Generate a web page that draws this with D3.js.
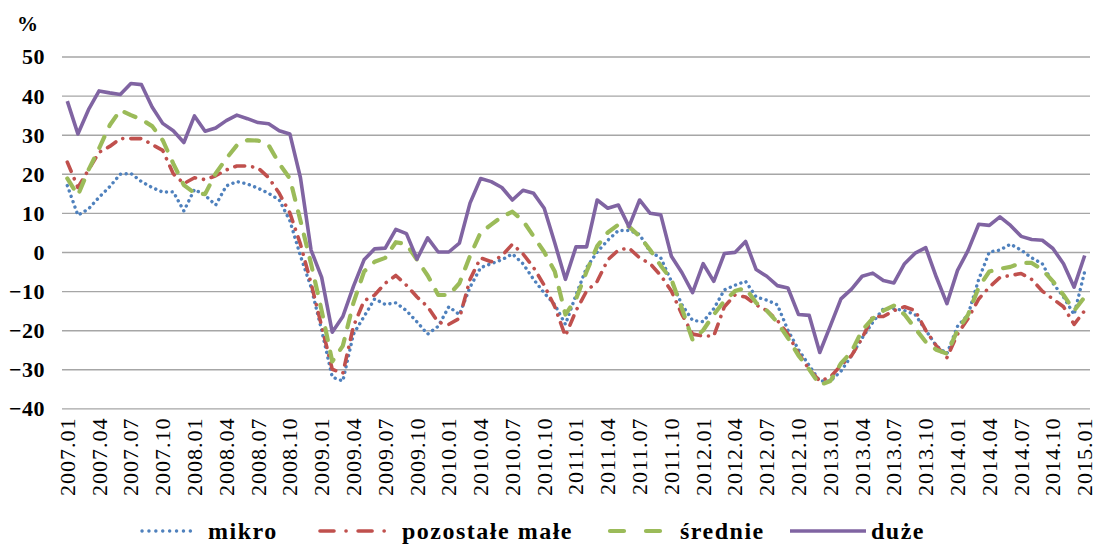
<!DOCTYPE html>
<html>
<head>
<meta charset="utf-8">
<script src="https://cdn.jsdelivr.net/npm/d3@7"></script>
</head>
<body style="margin:0">
<svg id="chart" width="1096" height="547" font-family="Liberation Serif"></svg>
<script>
// months 2007.01 .. 2015.01
const months = [];
for (let y = 2007; y <= 2015; y++) {
  for (let m = 1; m <= 12; m++) {
    if (y === 2015 && m > 1) break;
    months.push(y + "." + (m < 10 ? "0" + m : m));
  }
}
const tickLabels = months.filter((d, i) => i % 3 === 0);
const yTicks = [-40, -30, -20, -10, 0, 10, 20, 30, 40, 50];

const mikro = [17, 9.4, 11, 14, 16.7, 19.9, 20.1, 18, 16.5, 15.3, 15.4, 10.5,
  16, 14.5, 12, 16.9, 18, 17.4, 16.3, 15, 13.3, 8, -1, -9,
  -20, -32, -33, -21, -16.5, -12, -13.4, -13, -15, -17.9, -21, -19,
  -14, -16, -9, -4, -3, -2, -0.5, -3, -7, -10.5, -13.5, -18.5,
  -11, -4, 0, 3, 5.5, 5.5, 4.5, 0, -1.5, -7.5, -13.5, -17.5,
  -17.8, -14.5, -9.7, -8.5, -7.5, -11.5, -12.3, -13.5, -20, -25, -29, -33,
  -33, -30.5, -26.5, -22, -18, -14.5, -14.5, -15, -16, -20, -24, -26,
  -19, -16, -7, 0, 0.5, 2, 0.5, -1.5, -3, -8, -11.5, -16,
  -5];

const pozostale = [23, 16.5, 21, 25.5, 27, 29, 29, 29, 27.5, 26, 20, 17.5,
  19, 18.5, 19.5, 21, 22, 22, 21.5, 19, 15, 10, 2, -8,
  -19, -30, -31, -19, -12.5, -11, -8, -6, -8.5, -11.5, -14, -18,
  -18.5, -17, -7, -1.5, -2.5, -1, 2, -0.5, -4, -8.5, -14, -21.5,
  -15, -10, -7.5, -2, 0.5, 1, -1.5, -3, -6, -10, -16, -21,
  -21.5, -21.5, -14, -11, -11.5, -13.5, -15, -17.5, -21, -26, -30, -33,
  -32, -29, -26.5, -22, -16.5, -16.5, -15, -14, -15, -20, -24, -27,
  -21, -17, -12, -9, -6.5, -6, -5.5, -7, -10, -12, -14, -18.5,
  -15];

const srednie = [18.8, 14.5, 21, 26.5, 32.4, 36.3, 35, 33.9, 32.2, 28.6, 22.6, 17.1,
  15.1, 14.8, 20.1, 23.9, 27.3, 28.6, 28.5, 27.3, 22.6, 18.8, 8, -3,
  -15, -28, -24, -13, -5, -2.5, -1.5, 2.5, 2, -2, -6, -11,
  -11, -8, -1, 5, 7, 9, 10.3, 8, 4, 0, -5, -16,
  -12, -5, 1.5, 5, 7, 6.5, 4, 0.5, -3.5, -7, -14.5, -22.5,
  -20, -16, -12.5, -10, -9.2, -13, -15, -18, -22, -26.5, -30, -34,
  -33, -28.5, -25.5, -20, -17, -15, -13.7, -16, -19.5, -23, -25, -26,
  -20, -16, -9, -5, -4.3, -3.8, -2.8, -2.8, -4.5, -7.5, -11, -15,
  -11.5];

const duze = [38.6, 30.2, 36.4, 41.2, 40.7, 40.3, 43.1, 42.8, 37.1, 32.9, 31, 28,
  34.8, 30.9, 31.7, 33.6, 35, 34.1, 33.1, 32.8, 31, 30.2, 19, 0.5,
  -6.5, -20.5, -16.5, -8.8, -2, 0.8, 1, 5.8, 4.7, -1.8, 3.6, 0,
  0, 2.3, 12.5, 18.8, 18, 16.5, 13.3, 15.8, 15, 11.2, 2.3, -7,
  1.3, 1.3, 13.3, 11.2, 12, 6.5, 13.3, 9.9, 9.5, -1.1, -5.3, -10.4,
  -3, -7.5, -0.4, -0.1, 2.7, -4.5, -6.2, -8.6, -9.2, -16, -16.2, -25.7,
  -18.9, -12, -9.5, -6.2, -5.4, -7.3, -7.9, -3, -0.3, 1.1, -6.4, -13.2,
  -4.7, 0.4, 7.1, 6.8, 9, 6.8, 4, 3.2, 3, 0.9, -3, -9,
  -0.9];

const seriesNames = ["mikro", "pozostałe małe", "średnie", "duże"];
const seriesValues = [mikro, pozostale, srednie, duze];

const styles = [
  { color: "#4F81BD", width: 3.4, dash: "0.1,5.6", cap: "round" },
  { color: "#C0504D", width: 3.6, dash: "10,8,0.1,8", cap: "round" },
  { color: "#9BBB59", width: 4.2, dash: "12,12", cap: "round" },
  { color: "#8064A2", width: 3.6, dash: null, cap: "butt" }
];

const svg = d3.select("#chart");
const plot = { left: 62, right: 1090, top: 56.5, bottom: 408.4 };

const x = d3.scaleBand().domain(months).range([plot.left, plot.right]);
const xc = d => x(d) + x.bandwidth() / 2;
const y = d3.scaleLinear().domain([-40, 50]).range([plot.bottom, plot.top]);

function serif(sel, size, bold) {
  sel.attr("font-family", "Liberation Serif")
    .style("font-family", "'Liberation Serif'")
    .style("font-size", size + "px")
    .style("font-weight", bold ? "bold" : "normal");
}

// gridlines + y labels
const yAxis = d3.axisLeft(y).tickValues(yTicks)
  .tickSize(-(plot.right - plot.left)).tickPadding(17).tickFormat(d3.format("d"));
svg.append("g")
  .attr("transform", "translate(" + plot.left + ",0)")
  .call(yAxis)
  .attr("font-family", "Liberation Serif")
  .call(g => g.select(".domain").remove())
  .call(g => g.selectAll(".tick line").attr("stroke", "#a6a6a6").attr("stroke-width", 1.4))
  .call(g => g.selectAll(".tick text").call(serif, 22, true)
    .style("letter-spacing", "0.5px")
    .attr("fill", "#000").attr("dy", "0.34em"));

svg.append("text")
  .attr("x", 17).attr("y", 31)
  .call(serif, 21, true)
  .text("%");

// x labels
const xAxis = d3.axisBottom(x).tickValues(tickLabels).tickSize(0);
svg.append("g")
  .attr("transform", "translate(0," + plot.bottom + ")")
  .call(xAxis)
  .attr("font-family", "Liberation Serif")
  .call(g => g.select(".domain").remove())
  .call(g => g.selectAll(".tick text").call(serif, 22, false)
    .style("letter-spacing", "1px")
    .attr("fill", "#000")
    .attr("transform", "rotate(-90)")
    .attr("text-anchor", "end")
    .attr("x", -9)
    .attr("y", 0)
    .attr("dy", "0.34em"));

// lines
const line = d3.line().x((d, i) => xc(months[i])).y(d => y(d));

seriesValues.forEach((vals, k) => {
  const s = styles[k];
  svg.append("path")
    .datum(vals)
    .attr("fill", "none")
    .attr("stroke", s.color)
    .attr("stroke-width", s.width)
    .attr("stroke-linecap", s.cap)
    .attr("stroke-linejoin", "round")
    .attr("stroke-dasharray", s.dash)
    .attr("d", line);
});

// legend
const legendPos = [
  { x0: 142, x1: 196, tx: 208 },
  { x0: 320, x1: 396, tx: 402 },
  { x0: 610, x1: 662, tx: 680 },
  { x0: 790, x1: 866, tx: 871 }
];
const legendDash = ["0.1,6.8", "14,12,0.1,12", "14,22", null];
const legend = svg.append("g");
seriesNames.forEach((name, k) => {
  const s = styles[k], p = legendPos[k];
  legend.append("line")
    .attr("x1", p.x0).attr("x2", p.x1)
    .attr("y1", 531).attr("y2", 531)
    .attr("stroke", s.color)
    .attr("stroke-width", s.width)
    .attr("stroke-linecap", s.cap)
    .attr("stroke-dasharray", legendDash[k]);
  legend.append("text")
    .attr("x", p.tx).attr("y", 539)
    .call(serif, 24, true)
    .style("letter-spacing", "1.5px")
    .text(name);
});
</script>
</body>
</html>
